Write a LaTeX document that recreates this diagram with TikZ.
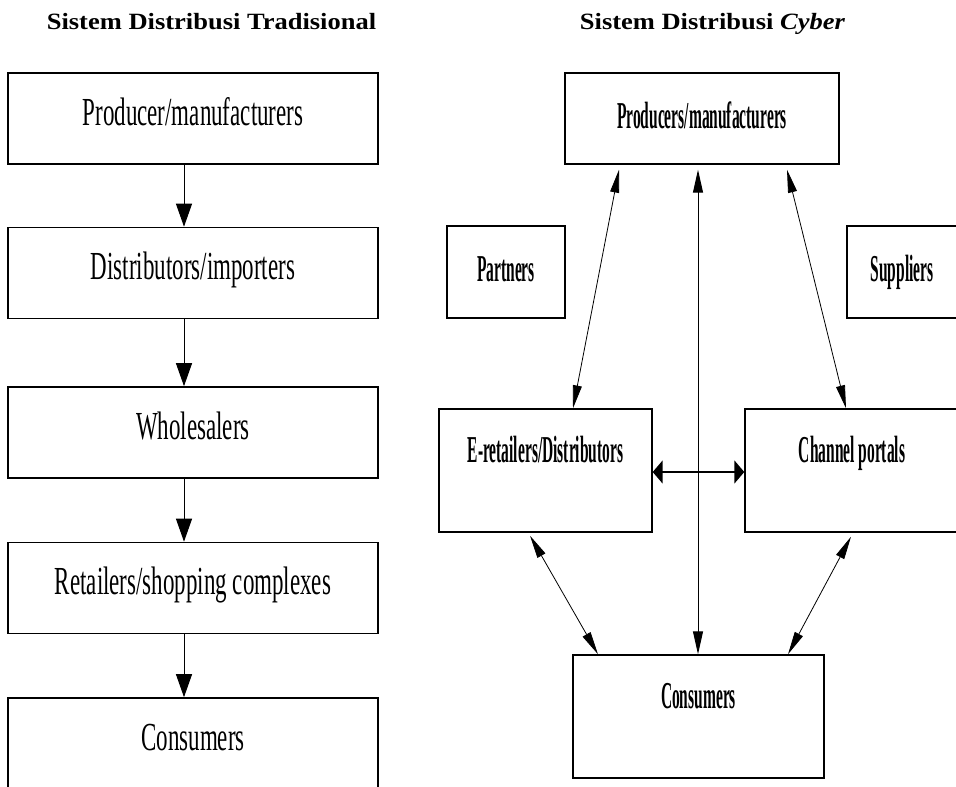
\documentclass[tikz,border=0pt]{standalone}
\usepackage{fontspec}
\setmainfont{Liberation Serif}
\usepackage{graphicx}
\usepackage{tikz}
\usetikzlibrary{arrows.meta}

\newcommand{\titletxt}[1]{\scalebox{1}[0.88]{#1}}
\newcommand{\boxtxt}[1]{\scalebox{0.82}[1.42]{#1}}
\newcommand{\cybtxt}[1]{\scalebox{0.775}[1.9]{#1}}

\begin{document}
\begin{tikzpicture}[x=1pt,y={(0pt,-1pt)},
  titlenode/.style={anchor=base,inner sep=0pt,font=\bfseries\fontsize{26.5}{28}\selectfont},
  tradbox/.style={draw,line width=1.6pt,minimum width=370pt,minimum height=91pt,inner sep=0pt,text height=16pt,text depth=3pt,font=\fontsize{28}{30}\selectfont},
  cybbox/.style={draw,line width=1.4pt,inner sep=0pt,font=\bfseries\fontsize{20}{22}\selectfont},
  flatbox/.style={text height=22pt,text depth=3pt},
  tallbox/.style={text height=2pt,text depth=18pt},
  tradarrow/.style={-{Triangle[length=23pt,width=16pt]},line width=1pt},
  cybarrow/.style={{Triangle[length=23pt,width=9pt]}-{Triangle[length=23pt,width=9pt]},line width=0.8pt},
  midarrow/.style={{Triangle[length=23pt,width=10pt]}-{Triangle[length=23pt,width=10pt]},line width=1pt},
  sidearrow/.style={{Triangle[length=10pt,width=23pt]}-{Triangle[length=10pt,width=23pt]},line width=2pt}]

\useasboundingbox (0,0) rectangle (956,787);
\clip (0,0) rectangle (956,787);

\node[titlenode] (titleT) at (211.5,29) {\titletxt{Sistem Distribusi Tradisional}};

\node[titlenode] (titleC) at (712.5,29) {\titletxt{Sistem Distribusi \textit{Cyber}}};


\node[tradbox] (prodT) at (193,118.5) {\boxtxt{Producer/manufacturers}};

\node[tradbox] (distT) at (193,273) {\boxtxt{Distributors/importers}};

\node[tradbox] (wholT) at (193,432.5) {\boxtxt{Wholesalers}};

\node[tradbox] (retT) at (193,588) {\boxtxt{Retailers/shopping complexes}};

\node[tradbox] (consT) at (193,743.5) {\boxtxt{Consumers}};

\foreach \a/\b in {prodT/distT,distT/wholT,wholT/retT,retT/consT}
  \draw[tradarrow] ([xshift=-9pt]\a.south) -- ([xshift=-9pt]\b.north);


\node[cybbox,flatbox,minimum width=274pt,minimum height=91pt] (prodC) at (702,118.5) {\cybtxt{Producers/manufacturers}};

\node[cybbox,flatbox,minimum width=118pt,minimum height=92pt] (partC) at (506,272) {\cybtxt{Partners}};

\node[cybbox,flatbox,minimum width=110pt,minimum height=92pt] (suppC) at (902,272) {\cybtxt{Suppliers}};

\node[cybbox,tallbox,minimum width=213pt,minimum height=123pt] (eretC) at (545.5,470.5) {\cybtxt{E-retailers/Distributors}};

\node[cybbox,tallbox,minimum width=214pt,minimum height=123pt] (chanC) at (852,470.5) {\cybtxt{Channel portals}};

\node[cybbox,tallbox,minimum width=251pt,minimum height=123pt] (consC) at (698.5,716.5) {\cybtxt{Consumers}};

\draw[cybarrow] ([xshift=-83pt,yshift=-5pt]prodC.south) -- ([xshift=27.5pt]eretC.north);

\draw[cybarrow] ([xshift=85pt,yshift=-5pt]prodC.south) -- ([xshift=-6pt]chanC.north);

\draw[midarrow] ([xshift=-4pt,yshift=-5pt]prodC.south) -- ([xshift=-0.5pt]consC.north);

\draw[sidearrow] ([yshift=-1.5pt]eretC.east) -- ([yshift=-1.5pt]chanC.west);

\draw[cybarrow] ([xshift=-15.5pt,yshift=-3pt]eretC.south) -- ([xshift=-100.5pt]consC.north);

\draw[cybarrow] ([xshift=-1pt,yshift=-4pt]chanC.south) -- ([xshift=89.5pt]consC.north);

\end{tikzpicture}
\end{document}
